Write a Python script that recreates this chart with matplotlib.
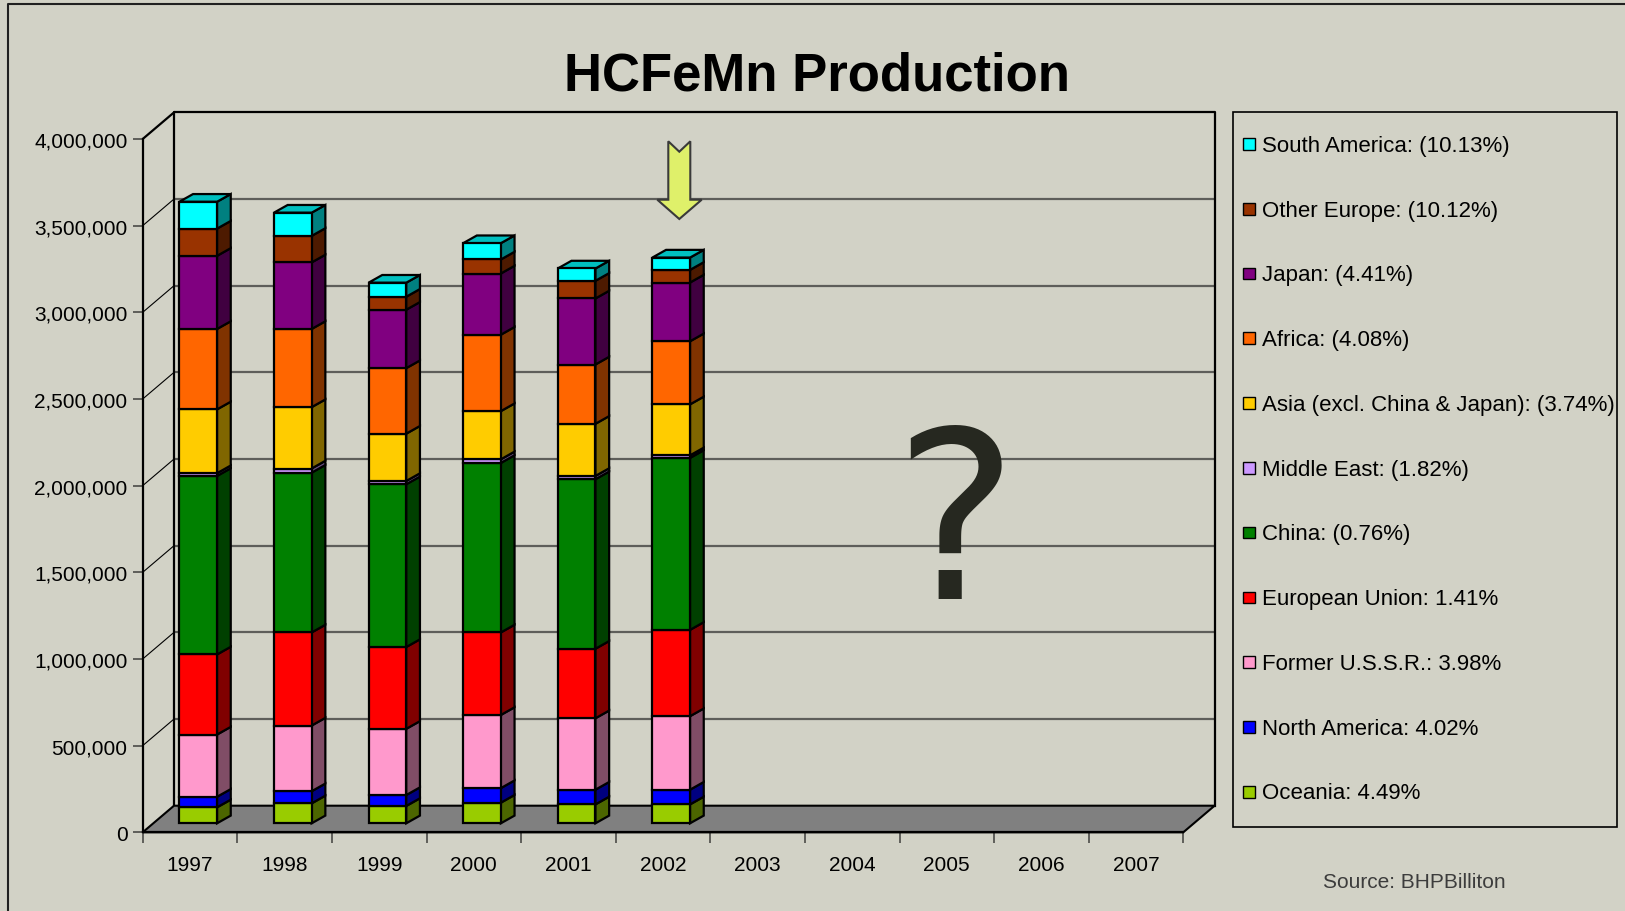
import matplotlib
matplotlib.use("Agg")
import matplotlib.pyplot as plt
from matplotlib.patches import Polygon, Rectangle
from matplotlib.lines import Line2D

# ---------------- data ----------------
years = ["1997", "1998", "1999", "2000", "2001", "2002",
         "2003", "2004", "2005", "2006", "2007"]
data_years = ["1997", "1998", "1999", "2000", "2001", "2002"]

oceania       = [92000, 115000, 100000, 119000, 109000, 109000]
north_america = [61000, 70000, 63000, 84000, 85000, 85000]
former_ussr   = [359000, 379000, 382000, 422000, 412000, 424000]
european_union = [462000, 537000, 472000, 476000, 401000, 498000]
china         = [1030000, 922000, 939000, 978000, 978000, 992000]
middle_east   = [16000, 24000, 19000, 21000, 19000, 15000]
asia_other    = [368000, 354000, 273000, 278000, 301000, 294000]
africa        = [464000, 451000, 378000, 441000, 342000, 364000]
japan         = [422000, 384000, 337000, 353000, 381000, 339000]
other_europe  = [157000, 153000, 75000, 81000, 102000, 73000]
south_america = [155000, 134000, 81000, 94000, 71000, 71000]

series_values = [oceania, north_america, former_ussr, european_union, china,
                 middle_east, asia_other, africa, japan, other_europe, south_america]
series_labels = ["Oceania: 4.49%", "North America: 4.02%", "Former U.S.S.R.: 3.98%",
                 "European Union: 1.41%", "China: (0.76%)", "Middle East: (1.82%)",
                 "Asia (excl. China & Japan): (3.74%)", "Africa: (4.08%)",
                 "Japan: (4.41%)", "Other Europe: (10.12%)", "South America: (10.13%)"]
front_colors = ["#99CC00", "#0000FF", "#FF99CC", "#FF0000", "#008000", "#CC99FF",
                "#FFCC00", "#FF6600", "#800080", "#993300", "#00FFFF"]
side_colors = ["#4C6600", "#000080", "#804D66", "#800000", "#004000", "#664D80",
               "#806600", "#803300", "#400040", "#4D1A00", "#008080"]
top_colors = ["#73991A", "#0000BF", "#BF7399", "#BF0000", "#006000", "#9973BF",
              "#BF9900", "#BF4D00", "#600060", "#732600", "#00BFBF"]

yticks = [0, 500000, 1000000, 1500000, 2000000, 2500000, 3000000, 3500000, 4000000]

# ---------------- layout ----------------
W, H = 1625, 912
BG = "#D2D2C6"
fig = plt.figure(figsize=(W / 100, H / 100), dpi=100, facecolor=BG)


def fx(x):
    return x / W


def fy(y):
    return 1 - y / H


ax_l, ax_r, ax_t, ax_b = 142.7, 1183.3, 140.0, 833.3
ax = fig.add_axes([fx(ax_l), fy(ax_b), (ax_r - ax_l) / W, (ax_b - ax_t) / H])
ax.set_facecolor("none")
ax.set_xlim(-0.5, len(years) - 0.5)
ax.set_ylim(0, 4000000)

PX = len(years) / (ax_r - ax_l)      # data-x per pixel
PY = 4000000 / (ax_b - ax_t)         # data-y per pixel

FDX, FDY = 31.3 * PX, 26.6 * PY      # floor / wall depth
BOX, BOY = 8.2 * PX, 9.0 * PY        # bar front offset
BW = 37.7 * PX                       # bar width
BDX, BDY = 13.7 * PX, 7.7 * PY       # bar depth

x0, x1 = -0.5, len(years) - 0.5

# back wall gridlines
for v in yticks[1:-1]:
    ax.plot([x0 + FDX, x1 + FDX], [v + FDY, v + FDY], color="#5E5E5A", lw=1.6,
            zorder=1, clip_on=False, solid_capstyle="butt")
# side wall diagonals
for v in yticks[1:-1]:
    ax.plot([x0, x0 + FDX], [v, v + FDY], color="black", lw=0.8, zorder=1, clip_on=False)
# back wall frame
ax.plot([x0 + FDX, x0 + FDX, x1 + FDX, x1 + FDX],
        [FDY, 4000000 + FDY, 4000000 + FDY, FDY], color="black", lw=1.6,
        zorder=1.5, clip_on=False)
ax.plot([x0, x0 + FDX], [4000000, 4000000 + FDY], color="black", lw=1.6,
        zorder=1.5, clip_on=False)

# floor
floor = Polygon([(x0, 0), (x1, 0), (x1 + FDX, FDY), (x0 + FDX, FDY)], closed=True,
                facecolor="#808080", edgecolor="black", lw=1.5, zorder=2, clip_on=False)
ax.add_patch(floor)

# bars
for i, yr in enumerate(data_years):
    xi = years.index(yr)
    xc = xi + BOX
    xa, xb = xc - BW / 2, xc + BW / 2
    cum = BOY
    n = len(series_values)
    for s in range(n):
        val = series_values[s][i]
        ax.bar(xc, val, bottom=cum, width=BW, color=front_colors[s],
               edgecolor="black", linewidth=1.6, zorder=4, clip_on=False)
        side = Polygon([(xb, cum), (xb + BDX, cum + BDY), (xb + BDX, cum + val + BDY),
                        (xb, cum + val)], closed=True, facecolor=side_colors[s],
                       edgecolor="black", lw=1.6, zorder=3.5, clip_on=False)
        ax.add_patch(side)
        cum += val
        if s == n - 1:
            top = Polygon([(xa, cum), (xb, cum), (xb + BDX, cum + BDY),
                           (xa + BDX, cum + BDY)], closed=True, facecolor=top_colors[s],
                          edgecolor="black", lw=1.6, zorder=3.6, clip_on=False)
            ax.add_patch(top)

# axes, ticks
for sp in ["top", "right"]:
    ax.spines[sp].set_visible(False)
ax.spines["left"].set_linewidth(1.6)
ax.spines["bottom"].set_linewidth(1.6)
ax.spines["left"].set_zorder(5)
ax.set_yticks(yticks)
ax.set_yticklabels([f"{v:,}" for v in yticks], fontsize=15, family="Liberation Sans")
ax.tick_params(axis="y", direction="out", length=7.5, width=1.4, color="#5E5E5A", pad=3.5)
ax.set_xticks([k - 0.5 for k in range(len(years) + 1)])
ax.set_xticklabels([""] * (len(years) + 1))
ax.set_xticks(range(len(years)), minor=True)
ax.set_xticklabels(years, minor=True, fontsize=15, family="Liberation Sans")
ax.tick_params(axis="x", which="major", direction="out", length=8, width=1.4, color="#5E5E5A")
ax.tick_params(axis="x", which="minor", length=0, pad=16)

# title
fig.text(fx(817.5), fy(90.7), "HCFeMn Production", fontsize=38, weight="bold",
         family="Liberation Sans", ha="center", va="baseline")

# big question mark
fig.text(fx(955), fy(599.3), "?", fontsize=168, family="DejaVu Sans",
         color="#262820", ha="center", va="baseline")

# arrow pointing to 2002
arrow_pts = [(668.3, 142.3), (679.3, 152.7), (690.3, 142.3), (690.3, 200.7),
             (701.7, 200.7), (679.3, 220.0), (657.3, 200.7), (668.3, 200.7)]
fig.add_artist(Polygon([(fx(a), fy(b)) for a, b in arrow_pts], closed=True,
                       transform=fig.transFigure, facecolor="#DFF06A",
                       edgecolor="#3A3A3A", lw=1.5, zorder=10))

# legend box
lx0, ly0, lx1, ly1 = 1233.0, 113.4, 1616.6, 828.3
fig.add_artist(Rectangle((fx(lx0), fy(ly1)), (lx1 - lx0) / W, (ly1 - ly0) / H,
                         transform=fig.transFigure, facecolor="none",
                         edgecolor="black", lw=1.2))
row0, row_step = 144.0, 64.77
n = len(series_labels)
for r in range(n):
    s = n - 1 - r
    yc = row0 + r * row_step
    ms = 11.7
    fig.add_artist(Rectangle((fx(1243.3), fy(yc + 1 + ms / 2)), ms / W, ms / H,
                             transform=fig.transFigure, facecolor=front_colors[s],
                             edgecolor="black", lw=1.0))
    fig.text(fx(1262), fy(yc + 7.8), series_labels[s], fontsize=16,
             family="Liberation Sans", ha="left", va="baseline")

# source
fig.text(fx(1322.6), fy(888.3), "Source: BHPBilliton", fontsize=15,
         family="Liberation Sans", color="#3C3C3C", ha="left", va="baseline")

# figure border
fig.add_artist(Line2D([fx(8), fx(8), fx(W + 5)], [fy(H + 5), fy(5), fy(5)],
                      transform=fig.transFigure, color="#202020", lw=1.5))

fig.savefig("out.png", dpi=100, facecolor=BG)
